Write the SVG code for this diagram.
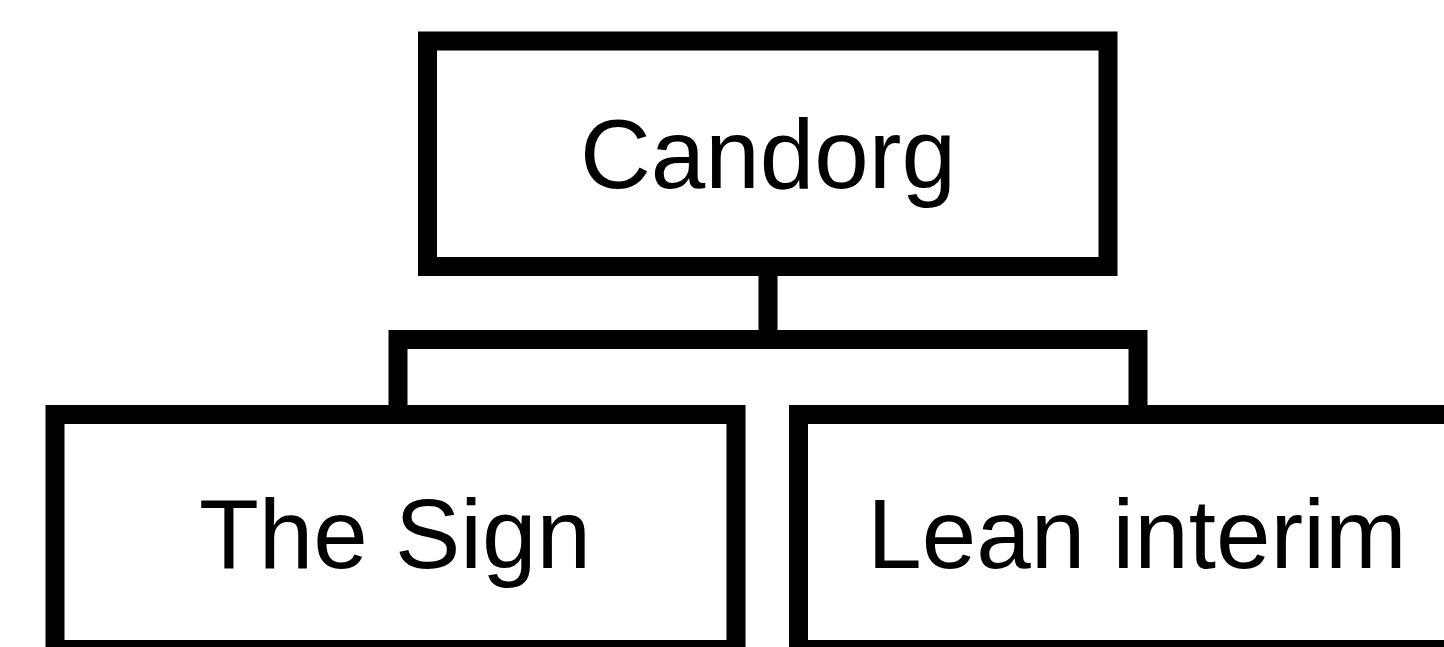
<svg xmlns="http://www.w3.org/2000/svg" width="1444" height="647" viewBox="0 0 1444 647">
<style>
.box{fill:#fff;stroke:#000;stroke-width:19}
.lbl{font-family:"Liberation Sans",Arial,sans-serif;font-size:98px;fill:#000;text-anchor:middle}
.conn{fill:none;stroke:#000;stroke-width:19;stroke-linecap:square}
</style>
<rect width="1444" height="647" fill="#fff"/>
<g id="connectors">
<path class="conn" d="M768 276 V339.5 M398 339.5 H1138 M398 339.5 V405 M1138 339.5 V405"/>
</g>
<g id="candorg">
<rect class="box" x="427.5" y="41" width="680.5" height="225.5"/>
<text class="lbl" x="768" y="188">Candorg</text>
</g>
<g id="the-sign">
<rect class="box" x="55" y="414.5" width="681" height="235"/>
<text class="lbl" x="395" y="568">The Sign</text>
</g>
<g id="lean-interim">
<rect class="box" x="798.5" y="414.5" width="680" height="235"/>
<text class="lbl" x="1137" y="568">Lean interim</text>
</g>
</svg>
